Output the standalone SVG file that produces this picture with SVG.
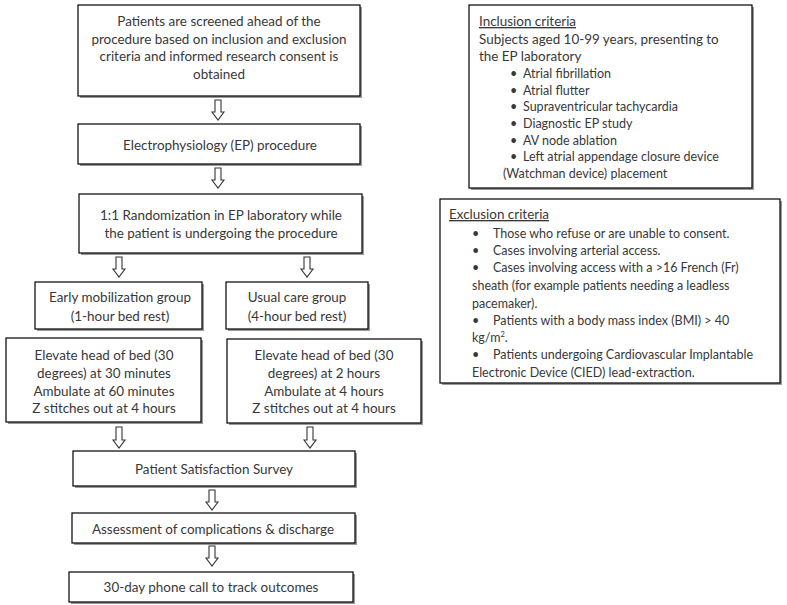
<svg xmlns="http://www.w3.org/2000/svg" width="787" height="605" viewBox="0 0 787 605">
<defs>
<style>
.box{fill:#fff;stroke:#000;stroke-width:1.2}
.sh{fill:#9a9a9a}
text{font-family:Lato,"Liberation Sans",sans-serif;fill:#383838}
.c{font-size:13.45px;text-anchor:middle}
.h{font-size:13.45px}
.b{font-size:12.5px}
.arr{fill:#fff;stroke:#333;stroke-width:1.1;stroke-linejoin:miter}
</style>
</defs>
<rect width="787" height="605" fill="#fff"/>
<g id="n1"><rect class="sh" x="80" y="7" width="282" height="91"/><rect class="box" x="78" y="5" width="282" height="91"/>
<text class="c" x="219" y="26">Patients are screened ahead of the</text>
<text class="c" x="219" y="43.5">procedure based on inclusion and exclusion</text>
<text class="c" x="219" y="61">criteria and informed research consent is</text>
<text class="c" x="219" y="79">obtained</text></g>
<g id="n2"><rect class="sh" x="80" y="126" width="282" height="40"/><rect class="box" x="78" y="124" width="282" height="40"/>
<text class="c" x="220" y="150">Electrophysiology (EP) procedure</text></g>
<g id="n3"><rect class="sh" x="81" y="196" width="283" height="59"/><rect class="box" x="79" y="194" width="283" height="59"/>
<text class="c" x="221" y="220">1:1 Randomization in EP laboratory while</text>
<text class="c" x="221" y="238">the patient is undergoing the procedure</text></g>
<g id="n4"><rect class="sh" x="37" y="284" width="167" height="47"/><rect class="box" x="35" y="282" width="167" height="47"/>
<text class="c" x="120" y="302">Early mobilization group</text>
<text class="c" x="120" y="321">(1-hour bed rest)</text></g>
<g id="n5"><rect class="sh" x="228" y="284" width="142" height="47"/><rect class="box" x="226" y="282" width="142" height="47"/>
<text class="c" x="297" y="302">Usual care group</text>
<text class="c" x="297" y="321">(4-hour bed rest)</text></g>
<g id="n6"><rect class="sh" x="8" y="340" width="195" height="84"/><rect class="box" x="6" y="338" width="195" height="84"/>
<text class="c" x="104" y="360">Elevate head of bed (30</text>
<text class="c" x="104" y="378">degrees) at 30 minutes</text>
<text class="c" x="104" y="396">Ambulate at 60 minutes</text>
<text class="c" x="104" y="413">Z stitches out at 4 hours</text></g>
<g id="n7"><rect class="sh" x="229" y="341" width="194" height="84"/><rect class="box" x="227" y="339" width="194" height="84"/>
<text class="c" x="324" y="360">Elevate head of bed (30</text>
<text class="c" x="324" y="378">degrees) at 2 hours</text>
<text class="c" x="324" y="396">Ambulate at 4 hours</text>
<text class="c" x="324" y="413">Z stitches out at 4 hours</text></g>
<g id="n8"><rect class="sh" x="75" y="453" width="282" height="35"/><rect class="box" x="73" y="451" width="282" height="35"/>
<text class="c" x="214" y="474">Patient Satisfaction Survey</text></g>
<g id="n9"><rect class="sh" x="74" y="515" width="283" height="30"/><rect class="box" x="72" y="513" width="283" height="30"/>
<text class="c" x="213" y="534">Assessment of complications &amp; discharge</text></g>
<g id="n10"><rect class="sh" x="71" y="574" width="284" height="30"/><rect class="box" x="69" y="572" width="284" height="30"/>
<text class="c" x="211" y="592">30-day phone call to track outcomes</text></g>
<g id="inc"><rect class="sh" x="471" y="7" width="283" height="183"/><rect class="box" x="469" y="5" width="283" height="183"/>
<text class="h" x="479" y="26" style="text-decoration:underline">Inclusion criteria</text>
<text class="h" x="479" y="43.5">Subjects aged 10-99 years, presenting to</text>
<text class="h" x="479" y="61">the EP laboratory</text>
<g class="b">
<text x="510" y="78">•</text><text x="523" y="78">Atrial fibrillation</text>
<text x="510" y="94.5">•</text><text x="523" y="94.5">Atrial flutter</text>
<text x="510" y="111">•</text><text x="523" y="111">Supraventricular tachycardia</text>
<text x="510" y="128">•</text><text x="523" y="128">Diagnostic EP study</text>
<text x="510" y="144.5">•</text><text x="523" y="144.5">AV node ablation</text>
<text x="510" y="161">•</text><text x="523" y="161">Left atrial appendage closure device</text>
<text x="503" y="178">(Watchman device) placement</text>
</g></g>
<g id="exc"><rect class="sh" x="442" y="201" width="340" height="184"/><rect class="box" x="440" y="199" width="340" height="184"/>
<text class="h" x="449" y="219" style="text-decoration:underline">Exclusion criteria</text>
<g class="b">
<text x="472" y="238">•</text><text x="493" y="238">Those who refuse or are unable to consent.</text>
<text x="472" y="255">•</text><text x="493" y="255">Cases involving arterial access.</text>
<text x="472" y="272">•</text><text x="493" y="272">Cases involving access with a &gt;16 French (Fr)</text>
<text x="472" y="290">sheath (for example patients needing a leadless</text>
<text x="472" y="308">pacemaker).</text>
<text x="472" y="325">•</text><text x="493" y="325">Patients with a body mass index (BMI) &gt; 40</text>
<text x="472" y="342">kg/m<tspan font-size="7.5" dy="-5">2</tspan><tspan dy="5">.</tspan></text>
<text x="472" y="359">•</text><text x="493" y="359">Patients undergoing Cardiovascular Implantable</text>
<text x="472" y="377">Electronic Device (CIED) lead-extraction.</text>
</g></g>
<g id="connectors">
<path class="arr" d="M215,100 h6 v12 h3 l-6,8 l-6,-8 h3 z"/>
<path class="arr" d="M215,168 h6 v12 h3 l-6,8 l-6,-8 h3 z"/>
<path class="arr" d="M116,257 h6 v12 h3 l-6,8 l-6,-8 h3 z"/>
<path class="arr" d="M304,257 h6 v12 h3 l-6,8 l-6,-8 h3 z"/>
<path class="arr" d="M116,427 h6 v13 h3 l-6,8 l-6,-8 h3 z"/>
<path class="arr" d="M307,427 h6 v13 h3 l-6,8 l-6,-8 h3 z"/>
<path class="arr" d="M209,490 h6 v12 h3 l-6,8 l-6,-8 h3 z"/>
<path class="arr" d="M209,546 h6 v12 h3 l-6,8 l-6,-8 h3 z"/>
</g>
</svg>
